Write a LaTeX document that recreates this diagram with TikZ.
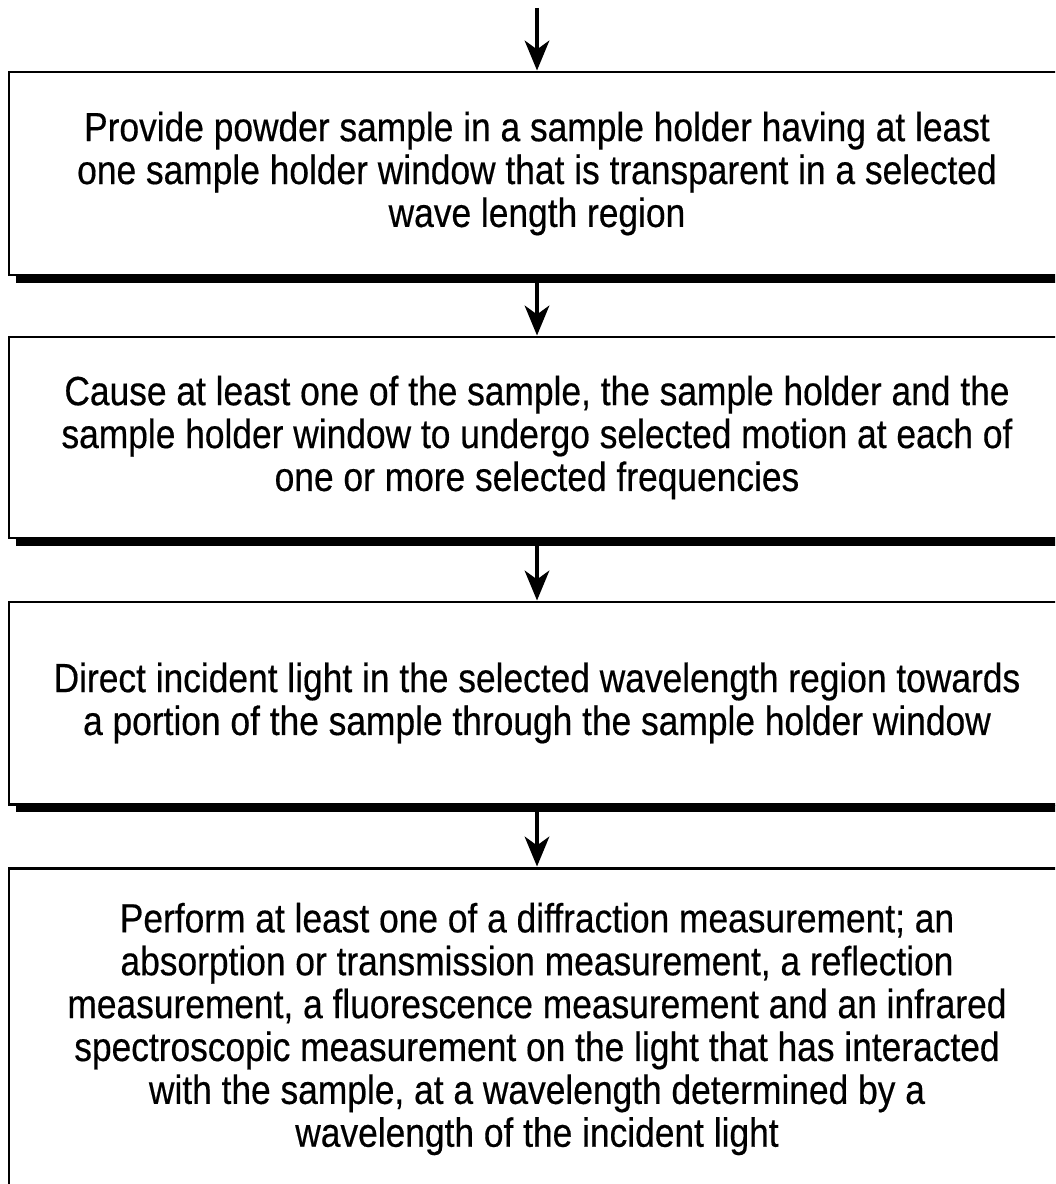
\documentclass[tikz,border=0pt]{standalone}
\usepackage{fontspec}
\setmainfont{Liberation Sans}[FakeStretch=0.867, FakeBold=0.4]
\usepackage{tikz}
\usetikzlibrary{arrows.meta}

\tikzset{
	stepbox/.style={draw=black, line width=0.85pt, rectangle, minimum width=10.56cm, align=center, inner sep=0pt, font=\fontsize{11.6}{12.2}\selectfont},
	flowarrow/.style={draw=black, line width=1.1pt, -{Stealth[length=8.5pt, width=7pt, inset=2.5pt]}},
	shadowline/.style={draw=black, line width=1.8pt}
}

\begin{document}
\begin{tikzpicture}
			\useasboundingbox (0,0) rectangle (10.55,-11.84);
			\clip (0,0) rectangle (10.55,-11.84);
			\coordinate (start) at (5.37,-0.08);
			\node[stepbox, minimum height=2.03cm] (provide) at (5.37,-1.735) {Provide powder sample in a sample holder having at least\\one sample holder window that is transparent in a selected\\wave length region};
			\node[stepbox, minimum height=2.01cm] (cause) at (5.37,-4.375) {Cause at least one of the sample, the sample holder and the\\sample holder window to undergo selected motion at each of\\one or more selected frequencies};
			\node[stepbox, minimum height=2.02cm] (direct) at (5.37,-7.03) {Direct incident light in the selected wavelength region towards\\a portion of the sample through the sample holder window};
			\node[stepbox, minimum height=3.22cm] (perform) at (5.37,-10.29) {Perform at least one of a diffraction measurement; an\\absorption or transmission measurement, a reflection\\measurement, a fluorescence measurement and an infrared\\spectroscopic measurement on the light that has interacted\\with the sample, at a wavelength determined by a\\wavelength of the incident light};
			\draw[shadowline] ([xshift=0.08cm, yshift=-0.03cm]provide.south west) -- ([yshift=-0.03cm]provide.south east);
			\draw[shadowline] ([xshift=0.08cm, yshift=-0.03cm]cause.south west) -- ([yshift=-0.03cm]cause.south east);
			\draw[shadowline] ([xshift=0.08cm, yshift=-0.03cm]direct.south west) -- ([yshift=-0.03cm]direct.south east);
			\draw[flowarrow] (start) -- (provide.north);
			\draw[flowarrow] (provide.south) -- (cause.north);
			\draw[flowarrow] (cause.south) -- (direct.north);
			\draw[flowarrow] (direct.south) -- (perform.north);
		\end{tikzpicture}
\end{document}
